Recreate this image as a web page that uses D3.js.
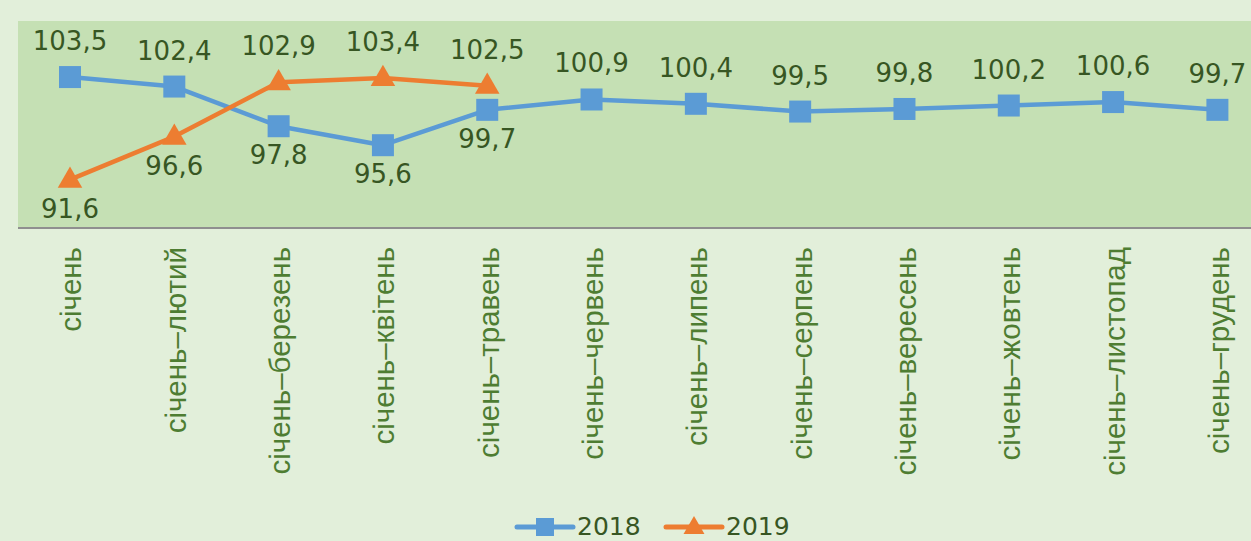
<!DOCTYPE html>
<html>
<head>
<meta charset="utf-8">
<script src="https://cdn.jsdelivr.net/npm/d3@7"></script>
<style>
  html, body { margin: 0; padding: 0; background: #e2efda; }
  svg { display: block; }
</style>
</head>
<body>
<svg id="chart" width="1251" height="541"></svg>
<script>
const categories = ["січень", "січень–лютий", "січень–березень", "січень–квітень", "січень–травень", "січень–червень", "січень–липень", "січень–серпень", "січень–вересень", "січень–жовтень", "січень–листопад", "січень–грудень"];
const values2018 = [103.5, 102.4, 97.8, 95.6, 99.7, 100.9, 100.4, 99.5, 99.8, 100.2, 100.6, 99.7];
const values2019 = [91.6, 96.6, 102.9, 103.4, 102.5];
const labelBelow2018 = [false, false, true, true, true, false, false, false, false, false, false, false];
const labelBelow2019 = [true, true, false, false, false];
const seriesNames = ["2018", "2019"];

const W = 1251, H = 541;
const svg = d3.select("#chart");
const plot = { left: 18, right: 1270, top: 21, bottom: 228 };

svg.append("rect").attr("width", W).attr("height", H).attr("fill", "#e2efda");
svg.append("rect").attr("x", plot.left).attr("y", plot.top)
  .attr("width", plot.right - plot.left).attr("height", plot.bottom - plot.top)
  .attr("fill", "#c5e0b4");

const x = d3.scalePoint().domain(categories).range([70, 1217.4]);
const y = d3.scaleLinear().domain([86, 110]).range([plot.bottom, plot.top]);

// axis
const xAxis = d3.axisBottom(x).tickSize(0).tickPadding(0);
const gx = svg.append("g").attr("transform", `translate(0,${plot.bottom})`).call(xAxis);
gx.select(".domain").attr("d", `M${plot.left},0H${plot.right}`).attr("stroke", "#8f8f8f").attr("stroke-width", 2);
gx.selectAll(".tick text")
  .attr("transform", "translate(0,19) rotate(-90)")
  .attr("text-anchor", "end")
  .attr("x", 0).attr("y", 0).attr("dy", "0.37em")
  .attr("font-family", "'Liberation Sans', Arial, sans-serif")
  .attr("font-size", 29.5)
  .attr("fill", "#4e7d32");

const colors = { "2018": "#5b9bd5", "2019": "#ed7d31" };
const line = d3.line().x(d => x(d.c)).y(d => y(d.v));

const data2018 = values2018.map((v, i) => ({ c: categories[i], v, below: labelBelow2018[i] }));
const data2019 = values2019.map((v, i) => ({ c: categories[i], v, below: labelBelow2019[i] }));

svg.append("path").datum(data2018).attr("d", line).attr("fill", "none")
  .attr("stroke", colors["2018"]).attr("stroke-width", 4.5).attr("stroke-linejoin", "round");
svg.append("path").datum(data2019).attr("d", line).attr("fill", "none")
  .attr("stroke", colors["2019"]).attr("stroke-width", 4.5).attr("stroke-linejoin", "round");

const sq = 22;
svg.selectAll(".m18").data(data2018).join("rect")
  .attr("x", d => x(d.c) - sq / 2).attr("y", d => y(d.v) - sq / 2)
  .attr("width", sq).attr("height", sq).attr("fill", colors["2018"]);

const tri = d3.symbol().type(d3.symbolTriangle).size(260);
svg.selectAll(".m19").data(data2019).join("path")
  .attr("d", tri).attr("transform", d => `translate(${x(d.c)},${y(d.v) + 1})`)
  .attr("fill", colors["2019"]);

const fmt = v => d3.format(".1f")(v).replace(".", ",");
const labelFont = "'DejaVu Sans', Verdana, sans-serif";
function labels(data) {
  svg.append("g").selectAll("text").data(data).join("text")
    .attr("x", d => x(d.c))
    .attr("y", d => y(d.v) + (d.below ? 38 : -27))
    .attr("text-anchor", "middle")
    .attr("font-family", labelFont).attr("font-size", 26)
    .attr("fill", "#375623")
    .text(d => fmt(d.v));
}
labels(data2018);
labels(data2019);

// legend
const legend = svg.append("g");
const legendItems = [
  { name: seriesNames[0], x0: 517, type: "square" },
  { name: seriesNames[1], x0: 666, type: "triangle" }
];
const ly = 527;
legendItems.forEach(it => {
  const g = legend.append("g");
  g.append("line").attr("x1", it.x0).attr("x2", it.x0 + 56).attr("y1", ly).attr("y2", ly)
    .attr("stroke", colors[it.name]).attr("stroke-width", 5).attr("stroke-linecap", "round");
  if (it.type === "square") {
    g.append("rect").attr("x", it.x0 + 28 - 9).attr("y", ly - 9).attr("width", 18).attr("height", 18)
      .attr("fill", colors[it.name]);
  } else {
    g.append("path").attr("d", d3.symbol().type(d3.symbolTriangle).size(190))
      .attr("transform", `translate(${it.x0 + 28},${ly + 1})`).attr("fill", colors[it.name]);
  }
  g.append("text").attr("x", it.x0 + 60).attr("y", ly + 8)
    .attr("font-family", labelFont).attr("font-size", 25).attr("fill", "#375623")
    .text(it.name);
});
</script>
</body>
</html>
